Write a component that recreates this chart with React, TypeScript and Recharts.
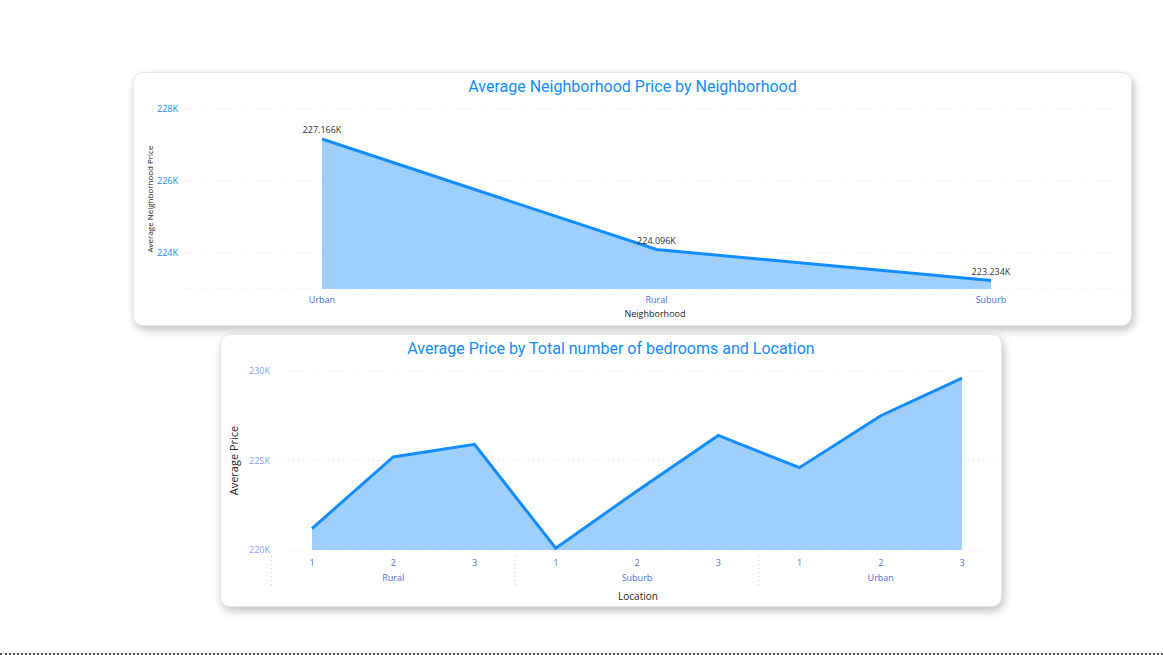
import { Area, AreaChart, CartesianGrid, LabelList, XAxis, YAxis } from "recharts";

const neighborhoods = ["Urban", "Rural", "Suburb"];
const neighborhoodPrices = [227166, 224096, 223234];
const neighborhoodTicks = [224000, 226000, 228000];

const locations = ["Rural", "Rural", "Rural", "Suburb", "Suburb", "Suburb", "Urban", "Urban", "Urban"];
const bedrooms = [1, 2, 3, 1, 2, 3, 1, 2, 3];
const locationPrices = [221200, 225200, 225900, 220100, 223300, 226400, 224600, 227500, 229600];
const locationTicks = [220000, 225000, 230000];

const BLUE = "#118DFF";
const FILL = "#9FCFFC";
const FONT = "'Segoe UI', 'Open Sans', sans-serif";

const topData = neighborhoods.map((n, i) => ({ name: n, price: neighborhoodPrices[i] }));
const bottomData = bedrooms.map((b, i) => ({ key: i, bed: b, loc: locations[i], price: locationPrices[i] }));

const kFmt = (v: number) => `${Math.round(v / 1000)}K`;

const cardStyle = (left: number, top: number, w: number, h: number): React.CSSProperties => ({
  position: "absolute",
  left,
  top,
  width: w,
  height: h,
  background: "#fff",
  borderRadius: 10,
  boxShadow: "2px 4px 8px rgba(0,0,0,0.25)",
  border: "1px solid #e6e6e6",
  overflow: "hidden",
});

const titleStyle = (top: number): React.CSSProperties => ({
  position: "absolute",
  top,
  left: 0,
  width: "100%",
  textAlign: "center",
  color: BLUE,
  fontFamily: "Roboto, sans-serif",
  fontSize: 16,
});

function GroupTick(props: any) {
  const { x, y, payload, index } = props;
  const d = bottomData[payload.value];
  const half = 40.5;
  return (
    <g>
      <text x={x} y={y + 8} textAnchor="middle" fontSize={9} fill="#4a6ee0" fontFamily={FONT}>
        {d.bed}
      </text>
      {index % 3 === 1 && (
        <text x={x} y={y + 23} textAnchor="middle" fontSize={9} fill="#4a6ee0" fontFamily={FONT}>
          {d.loc}
        </text>
      )}
      {index % 3 === 0 && (
        <line x1={x - half} x2={x - half} y1={y - 2} y2={y + 30} stroke="#ccc" strokeDasharray="1 3" />
      )}
    </g>
  );
}

export default function App() {
  return (
    <div style={{ position: "fixed", left: 0, top: 0, width: 1163, height: 655, background: "#fff", fontFamily: FONT }}>
      <div style={{ position: "absolute", left: 0, top: 653, width: 1163, borderTop: "2px dotted #555" }} />
      <div style={cardStyle(133, 72, 997, 252)}>
        <div style={titleStyle(4)}>Average Neighborhood Price by Neighborhood</div>
        <AreaChart width={997} height={252} data={topData} margin={{ top: 36, right: 7, bottom: 6, left: 12 }}>
          <CartesianGrid vertical={false} stroke="#ddd" strokeDasharray="1 4" />
          <XAxis
            dataKey="name"
            padding={{ left: 136, right: 133 }}
            tickLine={false}
            axisLine={false}
            height={30}
            tick={{ fill: "#4a6ee0", fontSize: 9, fontFamily: FONT }}
            label={{ value: "Neighborhood", position: "insideBottom", offset: 2, fontSize: 9, fill: "#222" }}
          />
          <YAxis
            domain={[223000, 228000]}
            ticks={neighborhoodTicks}
            tickFormatter={kFmt}
            width={40}
            tickLine={false}
            axisLine={false}
            tick={{ fill: BLUE, fontSize: 9, fontFamily: FONT }}
            label={{ value: "Average Neighborhood Price", angle: -90, position: "insideLeft", offset: 0, dx: 4, fontSize: 8, fill: "#222", style: { textAnchor: "middle" } }}
          />
          <Area type="linear" dataKey="price" stroke={BLUE} strokeWidth={3} fill={FILL} fillOpacity={1} isAnimationActive={false}>
            <LabelList dataKey="price" position="top" offset={6} fontSize={9} fill="#333" formatter={(v: any) => `${(Number(v) / 1000).toFixed(3)}K`} />
          </Area>
        </AreaChart>
      </div>
      <div style={cardStyle(220, 334, 780, 271)}>
        <div style={titleStyle(4)}>Average Price by Total number of bedrooms and Location</div>
        <AreaChart width={780} height={271} data={bottomData} margin={{ top: 36, right: 3, bottom: 0, left: 7 }}>
          <CartesianGrid vertical={false} stroke="#ddd" strokeDasharray="1 4" />
          <XAxis
            dataKey="key"
            type="category"
            padding={{ left: 34, right: 36 }}
            tickLine={false}
            axisLine={false}
            interval={0}
            tick={<GroupTick />}
            height={56}
            label={{ value: "Location", position: "insideBottom", offset: 6, fontSize: 10, fill: "#222" }}
          />
          <YAxis
            domain={[220000, 230000]}
            ticks={locationTicks}
            tickFormatter={kFmt}
            width={50}
            tickLine={false}
            axisLine={false}
            tick={{ fill: "#8c9cf5", fontSize: 9, fontFamily: FONT }}
            label={{ value: "Average Price", angle: -90, position: "insideLeft", offset: 6, fontSize: 11, fill: "#222", style: { textAnchor: "middle" } }}
          />
          <Area type="linear" dataKey="price" stroke={BLUE} strokeWidth={3} fill={FILL} fillOpacity={1} isAnimationActive={false} />
        </AreaChart>
      </div>
    </div>
  );
}
